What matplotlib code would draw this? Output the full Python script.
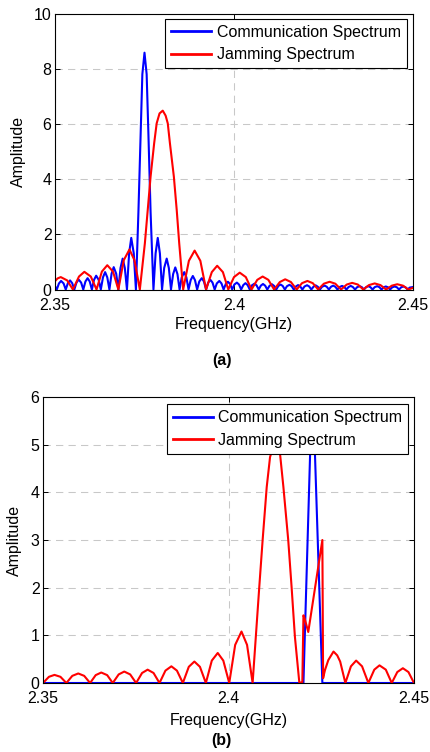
import matplotlib
matplotlib.use('Agg')
import matplotlib.pyplot as plt

plt.rcParams['font.family'] = ['Liberation Sans', 'DejaVu Sans']
plt.rcParams['font.size'] = 11.5

# Datos (frecuencia en GHz, amplitud)
# (a) espectro de comunicacion
com_a_freq = [2.3500, 2.3505,
              2.3511, 2.3517, 2.3524, 2.3530,
              2.3536, 2.3542, 2.3548, 2.3554,
              2.3560, 2.3566, 2.3573, 2.3579,
              2.3585, 2.3591, 2.3597, 2.3603,
              2.3609, 2.3615, 2.3622, 2.3628,
              2.3634, 2.3640, 2.3646, 2.3652,
              2.3658, 2.3664, 2.3671, 2.3677,
              2.3683, 2.3689, 2.3695, 2.3701,
              2.3707, 2.3713, 2.3720, 2.3726,
              2.3733, 2.3739, 2.3744, 2.3750, 2.3756, 2.3761, 2.3767, 2.3775,
              2.3781, 2.3787, 2.3793, 2.3799,
              2.3805, 2.3812, 2.3818, 2.3824,
              2.3830, 2.3836, 2.3842, 2.3848,
              2.3854, 2.3861, 2.3867, 2.3873,
              2.3879, 2.3885, 2.3891, 2.3897,
              2.3903, 2.3910, 2.3916, 2.3922,
              2.3928, 2.3934, 2.3940, 2.3946,
              2.3952, 2.3959, 2.3965, 2.3971,
              2.3977, 2.3983, 2.3989, 2.3995,
              2.4001, 2.4008, 2.4014, 2.4020,
              2.4026, 2.4032, 2.4038, 2.4044,
              2.4050, 2.4057, 2.4063, 2.4069,
              2.4075, 2.4081, 2.4087, 2.4093,
              2.4099, 2.4106, 2.4112, 2.4118,
              2.4124, 2.4130, 2.4136, 2.4142,
              2.4148, 2.4155, 2.4161, 2.4167,
              2.4173, 2.4179, 2.4185, 2.4191,
              2.4197, 2.4204, 2.4210, 2.4216,
              2.4222, 2.4228, 2.4234, 2.4240,
              2.4246, 2.4253, 2.4259, 2.4265,
              2.4271, 2.4277, 2.4283, 2.4289,
              2.4295, 2.4302, 2.4308, 2.4314,
              2.4320, 2.4326, 2.4332, 2.4338,
              2.4344, 2.4351, 2.4357, 2.4363,
              2.4369, 2.4375, 2.4381, 2.4387,
              2.4393, 2.4400, 2.4406, 2.4412,
              2.4418, 2.4424, 2.4430, 2.4436,
              2.4442, 2.4449, 2.4455, 2.4461,
              2.4467, 2.4473, 2.4479, 2.4485,
              2.4491, 2.4500]
com_a_amp = [0.12, 0,
             0.22, 0.31, 0.22, 0,
             0.23, 0.33, 0.23, 0,
             0.25, 0.36, 0.25, 0,
             0.29, 0.41, 0.29, 0,
             0.35, 0.50, 0.35, 0,
             0.44, 0.63, 0.44, 0,
             0.57, 0.81, 0.57, 0,
             0.78, 1.12, 0.78, 0,
             1.31, 1.87, 1.31, 0,
             2.8, 5.6, 7.8, 8.58, 7.8, 5.6, 2.8, 0,
             1.31, 1.87, 1.31, 0,
             0.78, 1.12, 0.78, 0,
             0.56, 0.80, 0.56, 0,
             0.44, 0.63, 0.44, 0,
             0.34, 0.49, 0.34, 0,
             0.29, 0.41, 0.29, 0,
             0.25, 0.35, 0.25, 0,
             0.22, 0.31, 0.22, 0,
             0.20, 0.28, 0.20, 0,
             0.18, 0.25, 0.18, 0,
             0.16, 0.23, 0.16, 0,
             0.15, 0.21, 0.15, 0,
             0.14, 0.20, 0.14, 0,
             0.13, 0.19, 0.13, 0,
             0.13, 0.18, 0.13, 0,
             0.12, 0.17, 0.12, 0,
             0.11, 0.16, 0.11, 0,
             0.11, 0.155, 0.11, 0,
             0.10, 0.15, 0.10, 0,
             0.10, 0.14, 0.10, 0,
             0.10, 0.14, 0.10, 0,
             0.09, 0.13, 0.09, 0,
             0.09, 0.13, 0.09, 0,
             0.085, 0.12, 0.085, 0,
             0.085, 0.12, 0.085, 0,
             0.085, 0.12, 0.085, 0,
             0.08, 0.11, 0.08, 0,
             0.08, 0.11, 0.08, 0,
             0.08, 0.11, 0.08, 0,
             0.07, 0.09]

# (a) espectro de interferencia
jam_a_freq = [2.3500, 2.3507, 2.3516, 2.3534, 2.3550,
              2.3567, 2.3582, 2.3600, 2.3616,
              2.3631, 2.3646, 2.3662, 2.3677,
              2.3692, 2.3708, 2.3722, 2.3737,
              2.3751, 2.3759, 2.3767, 2.3777, 2.3784, 2.3792, 2.3801, 2.3809, 2.3815,
              2.3821, 2.3832, 2.3840, 2.3847, 2.3858,
              2.3874, 2.3890, 2.3906, 2.3922,
              2.3938, 2.3953, 2.3969, 2.3984,
              2.4000, 2.4016, 2.4033, 2.4049,
              2.4065, 2.4080, 2.4096, 2.4112,
              2.4128, 2.4143, 2.4159, 2.4175,
              2.4190, 2.4205, 2.4220, 2.4235,
              2.4251, 2.4267, 2.4283, 2.4299,
              2.4315, 2.4330, 2.4346, 2.4361,
              2.4377, 2.4393, 2.4409, 2.4425,
              2.4441, 2.4456, 2.4472, 2.4487, 2.4500]
jam_a_amp = [0.30, 0.40, 0.45, 0.33, 0,
             0.47, 0.64, 0.47, 0,
             0.65, 0.88, 0.65, 0,
             1.06, 1.45, 1.06, 0,
             1.67, 2.88, 4.09, 5.3, 6.02, 6.38, 6.48, 6.3, 6.02,
             5.3, 4.09, 2.88, 1.67, 0,
             1.04, 1.41, 1.04, 0,
             0.63, 0.86, 0.63, 0,
             0.45, 0.61, 0.45, 0,
             0.35, 0.47, 0.35, 0,
             0.27, 0.37, 0.27, 0,
             0.23, 0.31, 0.23, 0,
             0.21, 0.28, 0.21, 0,
             0.18, 0.24, 0.18, 0,
             0.16, 0.22, 0.16, 0,
             0.14, 0.19, 0.14, 0, 0.06]

# (b) espectro de comunicacion
com_b_freq = [2.3500, 2.4202, 2.4220, 2.4226, 2.4233, 2.4253, 2.4500]
com_b_amp = [0, 0, 4.81, 5.6, 4.81, 0, 0]

# (b) espectro de interferencia
jam_b_freq = [2.3500, 2.3516, 2.3531, 2.3547, 2.3563,
              2.3579, 2.3595, 2.3611, 2.3627,
              2.3642, 2.3657, 2.3673, 2.3688,
              2.3704, 2.3719, 2.3735, 2.3751,
              2.3767, 2.3782, 2.3798, 2.3814,
              2.3830, 2.3846, 2.3861, 2.3877,
              2.3893, 2.3908, 2.3923, 2.3939,
              2.3955, 2.3971, 2.3986, 2.4002,
              2.4018, 2.4035, 2.4050, 2.4065,
              2.4083, 2.4092, 2.4103, 2.4112, 2.4120, 2.4129, 2.4139, 2.4148,
              2.4161, 2.4170, 2.4179, 2.4191,
              2.4199, 2.4202, 2.4205, 2.4215, 2.4253, 2.4255,
              2.4260, 2.4269, 2.4283, 2.4293, 2.4301, 2.4315,
              2.4330, 2.4344, 2.4360, 2.4377,
              2.4393, 2.4407, 2.4424, 2.4440,
              2.4455, 2.4470, 2.4485, 2.4500]
jam_b_amp = [0, 0.13, 0.17, 0.13, 0,
             0.15, 0.20, 0.15, 0,
             0.165, 0.22, 0.165, 0,
             0.18, 0.24, 0.18, 0,
             0.21, 0.28, 0.21, 0,
             0.26, 0.35, 0.26, 0,
             0.34, 0.45, 0.34, 0,
             0.47, 0.63, 0.47, 0,
             0.80, 1.08, 0.80, 0,
             2.02, 3.0, 4.11, 4.74, 4.95, 5.0, 4.8, 4.11,
             3.0, 2.02, 0.97, 0,
             0.02, 1.42, 1.36, 1.07, 3.0, 0.1,
             0.27, 0.48, 0.66, 0.58, 0.45, 0,
             0.35, 0.47, 0.35, 0,
             0.28, 0.37, 0.28, 0,
             0.23, 0.31, 0.23, 0]

labels = ['Communication Spectrum', 'Jamming Spectrum']
xticks = [2.35, 2.4, 2.45]
xticklabels = ['2.35', '2.4', '2.45']

W, H = 431, 752
fig = plt.figure(figsize=(W / 100, H / 100), dpi=100)


def px_axes(left, top, right, bottom):
    return fig.add_axes([left / W, 1 - bottom / H, (right - left) / W, (bottom - top) / H])


def estilo(ax, yticks, ymax):
    ax.set_xlim(2.35, 2.45)
    ax.set_ylim(0, ymax)
    ax.set_xticks(xticks)
    ax.set_xticklabels(xticklabels)
    ax.set_yticks(yticks)
    ax.tick_params(direction='in', top=True, right=True, length=3.6, width=0.7)
    ax.tick_params(axis='x', pad=6)
    ax.tick_params(axis='y', pad=2.5)
    ax.grid(True, color='#c8c8c8', linestyle=(0, (7, 5)), linewidth=0.75)
    ax.set_axisbelow(True)
    for s in ax.spines.values():
        s.set_linewidth(0.8)


def leyenda(ax, anchor):
    leg = ax.legend(labels, loc='upper right', bbox_to_anchor=anchor, borderaxespad=0,
                    fancybox=False, framealpha=1, edgecolor='black', handlelength=2.5,
                    handletextpad=0.35, borderpad=0.38, labelspacing=0.46, fontsize=11.5)
    leg.get_frame().set_linewidth(0.8)
    for ln in leg.get_lines():
        ln.set_linewidth(2)


# panel (a)
ax1 = px_axes(55, 13.5, 413, 289.5)
ax1.plot(com_a_freq, com_a_amp, color='#0000ff', linewidth=1.5)
ax1.plot(jam_a_freq, jam_a_amp, color='#ff0000', linewidth=1.5)
estilo(ax1, [0, 2, 4, 6, 8, 10], 10)
leyenda(ax1, ((406.7 - 55) / 358, (289.5 - 19) / 276))
ax1.set_xlabel('Frequency(GHz)')
ax1.xaxis.label.set_va('center')
ax1.xaxis.set_label_coords(0.5, -(324.3 - 289.5) / 276)
ax1.set_ylabel('Amplitude')
ax1.yaxis.label.set_va('center')
ax1.yaxis.set_label_coords((18.5 - 55) / 358, 0.5)
fig.text(221.7 / W, 1 - 360 / H, '(a)', ha='center', va='center', fontweight='bold')

# panel (b)
ax2 = px_axes(43, 397, 414, 683)
ax2.plot(com_b_freq, com_b_amp, color='#0000ff', linewidth=1.5)
ax2.plot(jam_b_freq, jam_b_amp, color='#ff0000', linewidth=1.5)
estilo(ax2, [0, 1, 2, 3, 4, 5, 6], 6)
leyenda(ax2, ((408.3 - 43) / 371, (683 - 404.3) / 286))
ax2.set_xlabel('Frequency(GHz)')
ax2.xaxis.label.set_va('center')
ax2.xaxis.set_label_coords(0.5, -(720 - 683) / 286)
ax2.set_ylabel('Amplitude')
ax2.yaxis.label.set_va('center')
ax2.yaxis.set_label_coords((14 - 43) / 371, 0.5)
fig.text(221.7 / W, 1 - 740.7 / H, '(b)', ha='center', va='center', fontweight='bold')

plt.savefig('out.png', dpi=100)
